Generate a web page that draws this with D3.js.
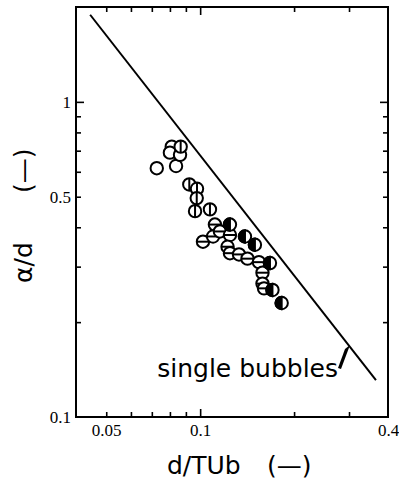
<!DOCTYPE html>
<html>
<head>
<meta charset="utf-8">
<script src="https://cdn.jsdelivr.net/npm/d3@7"></script>
<style>
  body { margin: 0; background: #fff; }
  svg { display: block; }
</style>
</head>
<body>
<div id="chart"></div>
<script>
// data (d/TUb , alpha/d)
const openPts = [[0.0726, 0.616], [0.0837, 0.626], [0.0811, 0.721], [0.0800, 0.690], [0.0862, 0.679]];
const vlinePts = [[0.0866, 0.721], [0.0923, 0.547], [0.0977, 0.530], [0.0975, 0.495], [0.0963, 0.450], [0.1075, 0.456]];
const hlinePts = [[0.1021, 0.360], [0.1115, 0.408], [0.1100, 0.374], [0.1157, 0.388], [0.1246, 0.378],
  [0.1224, 0.347], [0.1246, 0.331], [0.1332, 0.328], [0.1418, 0.318], [0.1543, 0.310],
  [0.1584, 0.287], [0.1584, 0.265], [0.1602, 0.256]];
const halfPts = [[0.1246, 0.408], [0.1392, 0.374], [0.1498, 0.352], [0.1674, 0.308], [0.1705, 0.253], [0.1825, 0.230]];
// single bubble line end points
const singleLine = [[0.0444, 1.89], [0.366, 0.131]];

const xMinor = [0.05, 0.06, 0.07, 0.08, 0.09, 0.2, 0.3];
const xMajor = [0.1];
const xLabels = [0.05, 0.1, 0.4];
const yMinor = [0.2, 0.3, 0.4, 0.5, 0.6, 0.7, 0.8, 0.9];
const yMajor = [1];
const yLabels = [0.1, 0.5, 1];

const width = 399, height = 483;
const plotL = 76, plotR = 388, plotT = 7, plotB = 417;

const svg = d3.select("#chart").append("svg")
  .attr("width", width)
  .attr("height", height);

const x = d3.scaleLog().domain([0.04, 0.4]).range([plotL, plotR]);
const y = d3.scaleLog().domain([0.1, 2]).range([plotB, plotT]);

// ticks, all pointing into the frame (mirrored on top / right)
function ticks(axisFn, scale, vals, size, pos) {
  const g = svg.append("g")
    .attr("transform", pos)
    .call(axisFn(scale).tickValues(vals).tickSize(size).tickFormat(""));
  g.select(".domain").remove();
  g.selectAll("line").attr("stroke", "#000").attr("stroke-width", 1.6);
  return g;
}
ticks(d3.axisBottom, x, xMinor, -5, `translate(0,${plotB})`);
ticks(d3.axisBottom, x, xMajor, -8, `translate(0,${plotB})`);
ticks(d3.axisTop, x, xMinor, -5, `translate(0,${plotT})`);
ticks(d3.axisTop, x, xMajor, -8, `translate(0,${plotT})`);
ticks(d3.axisLeft, y, yMinor, -5, `translate(${plotL},0)`);
ticks(d3.axisLeft, y, yMajor, -8, `translate(${plotL},0)`);
ticks(d3.axisRight, y, yMinor, -5, `translate(${plotR},0)`);
ticks(d3.axisRight, y, yMajor, -8, `translate(${plotR},0)`);

// tick labels
const xl = svg.append("g").attr("transform", `translate(0,${plotB})`)
  .call(d3.axisBottom(x).tickValues(xLabels).tickSize(0).tickPadding(7).tickFormat(d3.format("")));
xl.select(".domain").remove();
xl.selectAll("text").attr("font-family", "Liberation Serif, serif").attr("font-size", 17).attr("fill", "#000");

const yl = svg.append("g").attr("transform", `translate(${plotL},0)`)
  .call(d3.axisLeft(y).tickValues(yLabels).tickSize(0).tickPadding(5).tickFormat(d3.format("")));
yl.select(".domain").remove();
yl.selectAll("text").attr("font-family", "Liberation Serif, serif").attr("font-size", 17).attr("fill", "#000");

// frame
svg.append("rect")
  .attr("x", plotL).attr("y", plotT)
  .attr("width", plotR - plotL).attr("height", plotB - plotT)
  .attr("fill", "none").attr("stroke", "#000").attr("stroke-width", 2);

// single bubbles line
svg.append("line")
  .attr("x1", x(singleLine[0][0])).attr("y1", y(singleLine[0][1]))
  .attr("x2", x(singleLine[1][0])).attr("y2", y(singleLine[1][1]))
  .attr("stroke", "#000").attr("stroke-width", 2);

const r = 6.2;
const pts = svg.append("g").attr("stroke", "#000").attr("stroke-width", 2);

function circles(data) {
  return pts.selectAll(null).data(data).enter().append("g")
    .attr("transform", d => `translate(${x(d[0])},${y(d[1])})`)
    .call(g => g.append("circle").attr("r", r).attr("fill", "#fff"));
}
circles(openPts);
circles(vlinePts).append("line").attr("y1", -r).attr("y2", r);
circles(hlinePts).append("line").attr("x1", -r).attr("x2", r);
circles(halfPts).append("path")
  .attr("d", `M0,${-r} A${r},${r} 0 0 0 0,${r} Z`)
  .attr("fill", "#000");

// annotation
const font = "DejaVu Sans, sans-serif";
svg.append("text")
  .attr("x", 338).attr("y", 377)
  .attr("text-anchor", "end")
  .attr("font-family", font)
  .attr("font-size", 25)
  .text("single bubbles");
svg.append("path")
  .attr("d", "M338,368 L345,349 L350,345 L341,369 Z")
  .attr("fill", "#000");

// axis titles
svg.append("text")
  .attr("x", 167).attr("y", 474)
  .attr("font-family", font).attr("font-size", 25)
  .text("d/TUb");
svg.append("text")
  .attr("x", 267).attr("y", 474)
  .attr("font-family", font).attr("font-size", 25)
  .text("(\u2014)");

svg.append("text")
  .attr("transform", "translate(32,283) rotate(-90)")
  .attr("font-family", font).attr("font-size", 25)
  .text("\u03b1/d");
svg.append("text")
  .attr("transform", "translate(32,193) rotate(-90)")
  .attr("font-family", font).attr("font-size", 25)
  .text("(\u2014)");
</script>
</body>
</html>
